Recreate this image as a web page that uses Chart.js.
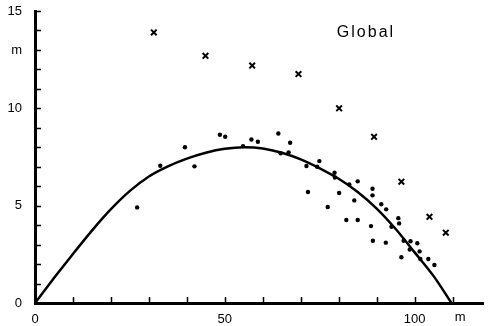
<!DOCTYPE html>
<html>
<head>
<meta charset="utf-8">
<script src="https://cdn.jsdelivr.net/npm/chart.js@4"></script>
<style>
  html, body { margin: 0; padding: 0; background: #fff; }
  canvas { display: block; }
</style>
</head>
<body>
<canvas id="myChart" width="489" height="326"></canvas>
<script>
// fitted trajectory
const curveX = [0, 5, 10, 15, 20, 25, 30, 35, 40, 45, 50, 55, 60, 65, 70, 75, 80, 85, 90, 95, 100, 105, 109.7];
const curveY = [0, 1.28, 2.52, 3.72, 4.82, 5.76, 6.5, 7.02, 7.42, 7.72, 7.92, 8.0, 7.94, 7.72, 7.38, 6.92, 6.38, 5.7, 4.85, 3.8, 2.6, 1.38, 0];

// measured points (dots)
const dotX = [26.9, 33.0, 39.5, 42.0, 48.7, 50.1, 54.8, 57.0, 58.7, 64.1, 67.2, 64.7, 66.8, 71.5, 74.9, 74.3, 78.9, 79.0, 71.9, 80.1, 77.1, 82.0, 82.8, 85.0, 84.1, 88.9, 88.9, 91.2, 92.5, 85.0, 88.5, 95.7, 95.9, 93.9, 89.0, 92.4, 97.1, 98.9, 100.7, 98.7, 101.3, 96.5, 101.5, 103.6, 105.2];
const dotY = [4.91, 7.05, 8.0, 7.02, 8.64, 8.54, 8.06, 8.4, 8.28, 8.71, 8.23, 7.69, 7.74, 7.04, 7.29, 7.0, 6.69, 6.45, 5.70, 5.65, 4.93, 4.26, 6.09, 6.25, 5.27, 5.87, 5.53, 5.07, 4.81, 4.26, 3.95, 4.36, 4.09, 3.92, 3.2, 3.1, 3.2, 3.17, 3.07, 2.75, 2.65, 2.35, 2.26, 2.26, 1.95];

// crosses
const crossX = [31.3, 44.9, 57.2, 69.4, 80.1, 89.3, 96.5, 103.9, 108.2];
const crossY = [13.9, 12.7, 12.2, 11.76, 10.0, 8.54, 6.23, 4.43, 3.61];

// axes
const xLabelValues = [0, 50, 100];
const yLabelValues = [0, 5, 10, 15];
const xTickValues = [10, 20, 30, 40, 50, 60, 70, 80, 90, 100, 110];
const yTickValues = [1, 2, 3, 4, 5, 6, 7, 8, 9, 10, 11, 12, 13, 14, 15];
const unitLabel = "m";
const xUnitAt = 112;
const yUnitAt = 13;
const titleText = "Global";

const FONT = "'Liberation Sans', Arial, sans-serif";

const toPoints = (xs, ys) => xs.map((x, i) => ({ x: x, y: ys[i] }));

const extras = {
  id: "extras",
  afterDraw(chart) {
    const c = chart.ctx;
    const xs = chart.scales.x;
    const ys = chart.scales.y;
    const a = chart.chartArea;
    c.save();
    c.strokeStyle = "#000";
    c.lineWidth = 1.5;
    c.beginPath();
    yTickValues.forEach(v => {
      const py = Math.round(ys.getPixelForValue(v)) + 0.5;
      c.moveTo(a.left, py);
      c.lineTo(a.left + 6, py);
    });
    xTickValues.forEach(v => {
      const px = Math.round(xs.getPixelForValue(v)) + 0.5;
      c.moveTo(px, a.bottom);
      c.lineTo(px, a.bottom - 6);
    });
    c.stroke();

    c.fillStyle = "#000";
    c.font = "13px " + FONT;
    c.textAlign = "center";
    c.textBaseline = "middle";
    c.fillText(unitLabel, xs.getPixelForValue(xUnitAt), a.bottom + 14);
    c.textAlign = "right";
    c.fillText(unitLabel, a.left - 13, ys.getPixelForValue(yUnitAt));

    c.font = "16px " + FONT;
    c.textAlign = "left";
    c.letterSpacing = "2px";
    c.fillText(titleText, xs.getPixelForValue(79.5), ys.getPixelForValue(13.9));
    c.restore();
  }
};

const ctx = document.getElementById("myChart");

new Chart(ctx, {
  type: "scatter",
  data: {
    datasets: [
      {
        label: "fit",
        data: toPoints(curveX, curveY),
        showLine: true,
        borderColor: "#000",
        borderWidth: 2.5,
        pointRadius: 0,
        cubicInterpolationMode: "monotone",
      },
      {
        label: "dots",
        data: toPoints(dotX, dotY),
        pointStyle: "circle",
        pointRadius: 2.2,
        backgroundColor: "#000",
        borderColor: "#000",
        borderWidth: 0,
      },
      {
        label: "crosses",
        data: toPoints(crossX, crossY),
        pointStyle: "crossRot",
        pointRadius: 4,
        borderColor: "#000",
        borderWidth: 2,
      },
    ],
  },
  options: {
    responsive: false,
    animation: false,
    layout: { padding: { top: 11, right: 4, left: 0, bottom: 0 } },
    plugins: {
      legend: { display: false },
      tooltip: { enabled: false },
      title: { display: false },
    },
    scales: {
      x: {
        type: "linear",
        min: 0,
        max: 118,
        afterFit: s => { s.height = 23; s.paddingLeft = 0; s.paddingRight = 0; },
        border: { display: true, color: "#000", width: 3 },
        grid: { display: true, drawOnChartArea: false, drawTicks: false },
        ticks: {
          stepSize: 10,
          autoSkip: false,
          maxRotation: 0,
          padding: 9,
          color: "#000",
          font: { family: FONT, size: 13 },
          callback: v => xLabelValues.includes(v) ? String(v) : "",
        },
      },
      y: {
        type: "linear",
        min: 0,
        max: 15,
        afterFit: s => { s.width = 35; s.paddingTop = 0; s.paddingBottom = 0; },
        border: { display: true, color: "#000", width: 3 },
        grid: { display: true, drawOnChartArea: false, drawTicks: false },
        ticks: {
          stepSize: 1,
          autoSkip: false,
          padding: 13,
          color: "#000",
          font: { family: FONT, size: 13 },
          callback: v => yLabelValues.includes(v) ? String(v) : "",
        },
      },
    },
  },
  plugins: [extras],
});
</script>
</body>
</html>
